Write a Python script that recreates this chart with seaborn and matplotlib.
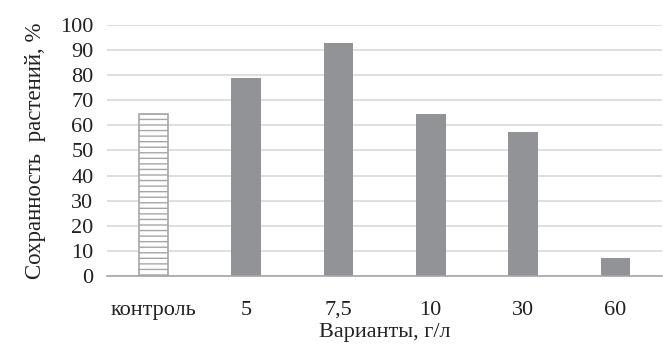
import matplotlib
matplotlib.use("Agg")
import matplotlib.pyplot as plt
import seaborn as sns
import pandas as pd

# данные
variants = ["контроль", "5", "7,5", "10", "30", "60"]
survival = [64.5, 78.8, 92.8, 64.4, 57.2, 7.2]

df = pd.DataFrame({"variant": variants, "survival": survival})

sns.set_theme(style="white")
plt.rcParams["font.family"] = ["Liberation Serif", "DejaVu Serif"]
plt.rcParams["hatch.color"] = "#a6a6a6"
plt.rcParams["hatch.linewidth"] = 1.0

fig = plt.figure(figsize=(6.63, 3.47), dpi=100)
ax = fig.add_axes([0.162, 0.205, 0.836, 0.723])

colors = ["white"] + ["#929396"] * 5
sns.barplot(data=df, x="variant", y="survival", hue="variant", palette=colors,
            legend=False, width=0.32, ax=ax, saturation=1, linewidth=0)

# контроль - штриховка
p = ax.patches[0]
p.set_hatch("---")
p.set_edgecolor("#a6a6a6")
p.set_linewidth(1.2)

ax.set_ylim(0, 100)
ax.set_yticks(range(0, 101, 10))
ax.yaxis.grid(True, color="#d9d9d9", linewidth=1.2)
ax.set_axisbelow(True)
for s in ["top", "right", "left"]:
    ax.spines[s].set_visible(False)
ax.spines["bottom"].set_color("#a6a6a6")
ax.spines["bottom"].set_linewidth(1.2)
ax.tick_params(axis="both", length=0, labelsize=16, colors="#222222")
ax.tick_params(axis="x", pad=18)
ax.tick_params(axis="y", pad=10)
ax.set_xlabel("Варианты, г/л", fontsize=16, color="#222222", labelpad=2)
ax.set_ylabel("Сохранность  растений, %", fontsize=16.5, color="#222222", labelpad=10)

fig.savefig("out.png", dpi=100)
